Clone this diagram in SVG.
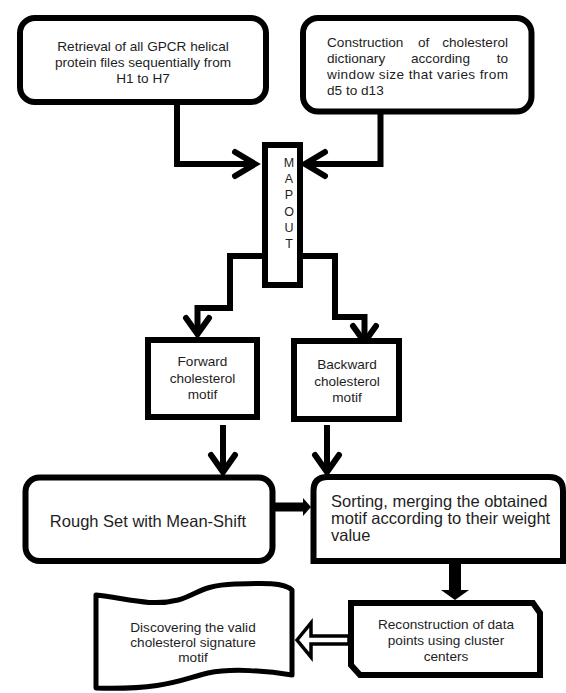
<svg xmlns="http://www.w3.org/2000/svg" width="566" height="693" viewBox="0 0 566 693">
<defs>
<style>
.box{fill:#fff;stroke:#000;stroke-width:6;stroke-linejoin:round}
.sq{fill:#fff;stroke:#000;stroke-width:6;stroke-linejoin:miter}
.ln{fill:none;stroke:#000;stroke-width:6;stroke-linejoin:miter;stroke-linecap:butt}
.hd{fill:none;stroke:#000;stroke-width:6;stroke-linejoin:miter;stroke-linecap:round}
text{font-family:"Liberation Sans",Arial,sans-serif;fill:#1e1e1e}
.s{font-size:13.6px}
.c{text-anchor:middle}
.b{font-size:16.5px}
.m{font-size:12.5px;text-anchor:middle}
</style>
</defs>
<rect width="566" height="693" fill="#fff"/>
<g id="connectors">
<path class="ln" d="M177,104 V164 H253"/>
<polyline class="hd" points="235,152 255,164 235,176"/>
<path class="ln" d="M380.5,114 V164 H307"/>
<polyline class="hd" points="325,152 305,164 325,176"/>
<path class="ln" d="M262,256 H230 V308 H197.5 V333"/>
<polyline class="hd" points="186,318 197.5,334 209,318"/>
<path class="ln" d="M303,256 H335 V317 H364.5 V341"/>
<polyline class="hd" points="353,326 364.5,342 376,326"/>
<path class="ln" d="M223,425 V471"/>
<polyline class="hd" points="211,455 223,472 235,455"/>
<path class="ln" d="M327,425 V471"/>
<polyline class="hd" points="315,455 327,472 339,455"/>
<path fill="none" stroke="#000" stroke-width="9" d="M274,507 H304"/>
<polygon points="303,498 311,507 303,516" fill="#000"/>
<rect x="449" y="562" width="12" height="29" fill="#000"/>
<polygon points="441,590 469,590 455,600" fill="#000"/>
<polygon points="297,640 311,623 311,636 349,636 349,644 311,644 311,657" fill="#fff" stroke="#000" stroke-width="3.5" stroke-linejoin="miter"/>
</g>
<g id="retrieval">
<rect class="box" x="20" y="18" width="246" height="84" rx="15"/>
<text class="s c" x="143" y="51">Retrieval of all GPCR helical</text>
<text class="s c" x="143" y="67">protein files sequentially from</text>
<text class="s c" x="143" y="83">H1 to H7</text>
</g>
<g id="construction">
<rect class="box" x="303" y="18" width="228.5" height="93.5" rx="15"/>
<text class="s" x="327" y="47">Construction</text>
<text class="s" x="418" y="47">of</text>
<text class="s" x="508" y="47" text-anchor="end">cholesterol</text>
<text class="s" x="327" y="63">dictionary</text>
<text class="s" x="411" y="63">according</text>
<text class="s" x="508" y="63" text-anchor="end">to</text>
<text class="s" x="327" y="79" textLength="181" lengthAdjust="spacing">window size that varies from</text>
<text class="s" x="327" y="95">d5 to d13</text>
</g>
<g id="mapout">
<rect class="sq" x="265" y="145" width="35" height="140"/>
<text class="m" x="289" y="167">M</text>
<text class="m" x="289" y="183">A</text>
<text class="m" x="289" y="199">P</text>
<text class="m" x="289" y="216">O</text>
<text class="m" x="289" y="232">U</text>
<text class="m" x="289" y="248">T</text>
</g>
<g id="forward">
<rect class="sq" x="148" y="340" width="109" height="77"/>
<text class="s c" x="202.5" y="366">Forward</text>
<text class="s c" x="202.5" y="383">cholesterol</text>
<text class="s c" x="202.5" y="399">motif</text>
</g>
<g id="backward">
<rect class="sq" x="294" y="341" width="105" height="78"/>
<text class="s c" x="347" y="369">Backward</text>
<text class="s c" x="347" y="386">cholesterol</text>
<text class="s c" x="347" y="402">motif</text>
</g>
<g id="roughset">
<rect class="box" x="25.5" y="477.5" width="247" height="83.5" rx="14"/>
<text class="b c" x="148" y="527">Rough Set with Mean-Shift</text>
</g>
<g id="sorting">
<path class="sq" d="M313.5,561 V491 Q313.5,477 327.5,477 H549 Q563,477 563,491 V561 Z"/>
<text class="b" x="331" y="507">Sorting, merging the obtained</text>
<text class="b" x="331" y="524">motif according to their weight</text>
<text class="b" x="331" y="541">value</text>
</g>
<g id="reconstruction">
<path class="sq" d="M351,603 H533 L540,613 V675 H360 L351,665 Z"/>
<text class="s c" x="446" y="629">Reconstruction of data</text>
<text class="s c" x="446" y="645">points using cluster</text>
<text class="s c" x="446" y="661">centers</text>
</g>
<g id="discovering">
<path fill="#fff" stroke="#000" stroke-width="5" stroke-linejoin="round" d="M96,595 C125,598 150,607 178,600 C196,595 202,585 235,584 C262,583 284,582 292,590 L292,675 C268,671 232,668 208,673 C182,679 165,690 96,688 Z"/>
<text class="s c" x="193" y="632">Discovering the valid</text>
<text class="s c" x="193" y="647">cholesterol signature</text>
<text class="s c" x="193" y="662">motif</text>
</g>
</svg>
